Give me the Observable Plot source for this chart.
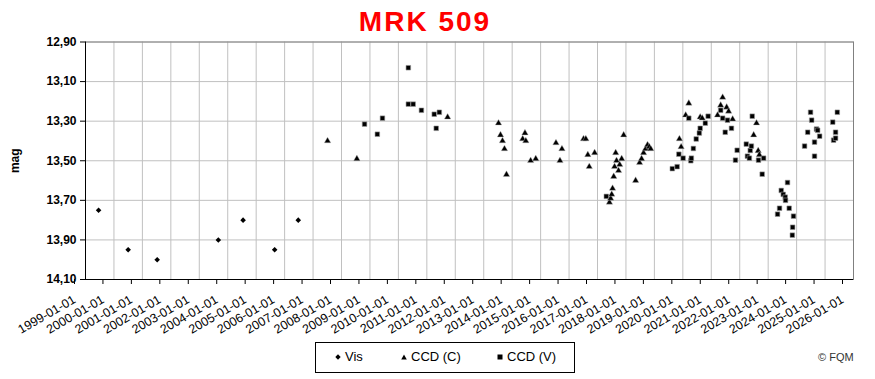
<!DOCTYPE html>
<html>
<head>
<meta charset="utf-8">
<script src="https://cdn.jsdelivr.net/npm/d3@7"></script>
<script src="https://cdn.jsdelivr.net/npm/@observablehq/plot@0.6"></script>
<style>
  body { margin: 0; background: #fff; font-family: Arial, "Liberation Sans", sans-serif; }
  #wrap { position: relative; width: 875px; height: 379px; overflow: hidden; }
  #title { position: absolute; left: 0; width: 850px; top: 6px; text-align: center; color: #ff0000; font-weight: bold; font-size: 28px; letter-spacing: 2px; }
  #legend { position: absolute; left: 315px; top: 342px; width: 260px; height: 31px; border: 1px solid #000; box-sizing: border-box; font-size: 13px; color: #000; }
  .li { position: absolute; top: 6px; display: flex; align-items: center; }
  .li svg { margin-right: 4px; }
  #copy { position: absolute; left: 818px; top: 351px; font-size: 11px; color: #333; }
</style>
</head>
<body>
<div id="wrap">
  <div id="chart"></div>
  <div id="title">MRK 509</div>
  <div id="legend">
    <div class="li" style="left:19px"><svg width="6" height="6"><path d="M3,0.3L5.7,3L3,5.7L0.3,3Z" fill="#000"/></svg>Vis</div>
    <div class="li" style="left:85px"><svg width="6" height="6"><path d="M3,0.5L5.8,5.6L0.2,5.6Z" fill="#000"/></svg>CCD (C)</div>
    <div class="li" style="left:181px"><svg width="6" height="6"><rect x="0.5" y="0.5" width="5" height="5" fill="#000"/></svg>CCD (V)</div>
  </div>
  <div id="copy">© FQM</div>
</div>
<script>
// Tick values
const xTicks = [1999,2000,2001,2002,2003,2004,2005,2006,2007,2008,2009,2010,2011,2012,2013,2014,2015,2016,2017,2018,2019,2020,2021,2022,2023,2024,2025,2026];
const yTicks = [12.9, 13.1, 13.3, 13.5, 13.7, 13.9, 14.1];

// Vis (visual estimates)
const visYear = [1999.46, 2000.50, 2001.52, 2003.67, 2004.54, 2005.65, 2006.48];
const visMag  = [13.75, 13.95, 14.00, 13.90, 13.80, 13.95, 13.80];

// CCD (C)
const ccdCYear = [2007.51, 2008.54, 2011.73, 2013.52, 2013.59, 2013.66, 2013.73, 2013.80, 2014.37, 2014.45, 2014.48, 2014.65, 2014.83,
  2015.54, 2015.68, 2015.75, 2016.51, 2016.59, 2016.66, 2016.71, 2016.90,
  2017.42, 2017.46, 2017.50, 2017.53, 2017.57, 2017.60, 2017.64, 2017.67, 2017.74, 2017.78, 2017.85, 2017.92,
  2018.34, 2018.48, 2018.55, 2018.62, 2018.69, 2018.76, 2018.82, 2018.87,
  2019.88, 2019.94, 2020.10, 2020.21, 2020.61, 2020.68,
  2021.22, 2021.33, 2021.40, 2021.54, 2021.61, 2021.75,
  2022.49, 2022.59, 2022.65, 2022.69];
const ccdCMag = [13.40, 13.49, 13.28, 13.31, 13.37, 13.40, 13.44, 13.57, 13.39, 13.36, 13.40, 13.50, 13.49,
  13.41, 13.50, 13.44, 13.39, 13.39, 13.47, 13.53, 13.46,
  13.71, 13.69, 13.67, 13.64, 13.58, 13.53, 13.46, 13.50, 13.55, 13.52, 13.49, 13.37,
  13.60, 13.51, 13.49, 13.46, 13.44, 13.42, 13.43, 13.44,
  13.39, 13.43, 13.27, 13.21, 13.28, 13.285,
  13.27, 13.22, 13.18, 13.23, 13.25, 13.29,
  13.37, 13.31, 13.45, 13.47];

// CCD (V)
const ccdVYear = [2008.81, 2009.26, 2009.44, 2010.35, 2010.35, 2010.52, 2010.81, 2011.26, 2011.33, 2011.44,
  2017.31, 2019.63, 2019.80, 2019.86, 2020.01, 2020.21, 2020.28, 2020.30, 2020.37, 2020.47, 2020.58, 2020.61, 2020.79, 2020.89,
  2021.33, 2021.40, 2021.49, 2021.57, 2021.71, 2021.85, 2021.91,
  2022.23, 2022.27, 2022.34, 2022.37, 2022.41, 2022.44, 2022.66, 2022.79, 2022.84,
  2023.33, 2023.40, 2023.46, 2023.53, 2023.60, 2023.61, 2023.68, 2023.74, 2023.85, 2023.86, 2023.89,
  2024.28, 2024.39, 2024.49, 2024.53, 2024.63, 2024.63, 2024.70, 2024.74, 2024.81,
  2025.27, 2025.30, 2025.37, 2025.37, 2025.43];
const ccdVMag = [13.315, 13.366, 13.285, 13.03, 13.214, 13.214, 13.245, 13.265, 13.336, 13.255,
  13.68, 13.54, 13.53, 13.467, 13.487, 13.285, 13.50, 13.487, 13.438, 13.39, 13.36, 13.336, 13.31, 13.275,
  13.245, 13.285, 13.356, 13.295, 13.336, 13.497, 13.447,
  13.416, 13.477, 13.487, 13.448, 13.426, 13.275, 13.497, 13.568, 13.487,
  13.77, 13.74, 13.65, 13.67, 13.684, 13.70, 13.61, 13.74, 13.876, 13.836, 13.78,
  13.426, 13.356, 13.255, 13.295, 13.406, 13.477, 13.34, 13.346, 13.376,
  13.305, 13.396, 13.356, 13.386, 13.255];

const vis = visYear.map((x, i) => ({x, y: visMag[i]}));
const ccdC = ccdCYear.map((x, i) => ({x, y: ccdCMag[i]}));
const ccdV = ccdVYear.map((x, i) => ({x, y: ccdVMag[i]}));

const chart = Plot.plot({
  width: 875,
  height: 379,
  marginLeft: 85,
  marginRight: 22,
  marginTop: 41.5,
  marginBottom: 100,
  style: { fontFamily: "Arial, 'Liberation Sans', sans-serif", color: "#000", background: "#fff" },
  x: { domain: [1999, 2026] },
  y: { domain: [12.9, 14.1], reverse: true },
  marks: [
    Plot.gridX(xTicks, { stroke: "#c0c0c0", strokeOpacity: 1 }),
    Plot.gridY(yTicks, { stroke: "#c0c0c0", strokeOpacity: 1 }),
    Plot.frame({ stroke: "#808080" }),
    Plot.ruleX([1999], { stroke: "#000" }),
    Plot.ruleY([14.1], { stroke: "#000" }),
    Plot.axisY(yTicks, {
      tickFormat: d => d.toFixed(2).replace(".", ","),
      fontWeight: "bold", fontSize: 12, tickSize: 5, tickPadding: 4,
      stroke: "#000",
      label: "mag", labelAnchor: "center", labelArrow: "none", labelOffset: 75
    }),
    Plot.axisX(xTicks, {
      tickFormat: d => `${d}-01-01`,
      tickRotate: -30, fontSize: 12.5, tickSize: 5, tickPadding: 14, dx: -11,
      stroke: "#000", label: null
    }),
    Plot.dot(vis, { x: "x", y: "y", symbol: "diamond2", r: 2.5, fill: "#000", stroke: "none" }),
    Plot.dot(ccdC, { x: "x", y: "y", symbol: "triangle", r: 2.4, fill: "#000", stroke: "#bbb", strokeWidth: 0.4 }),
    Plot.dot(ccdV, { x: "x", y: "y", symbol: "square", r: 2.6, fill: "#000", stroke: "#999", strokeWidth: 0.6 })
  ]
});
document.getElementById("chart").appendChild(chart);
</script>
</body>
</html>
